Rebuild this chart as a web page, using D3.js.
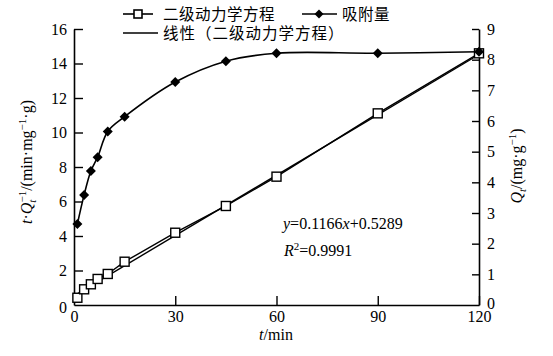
<!DOCTYPE html>
<html><head><meta charset="utf-8">
<script src="https://cdn.jsdelivr.net/npm/d3@7"></script>
<style>body{margin:0;background:#fff}svg{display:block}</style>
</head><body>
<svg id="c" width="553" height="356"></svg>
<script>
const times = [1, 3, 5, 7, 10, 15, 30, 45, 60, 90, 120];
const tOverQ = [0.42, 0.91, 1.20, 1.51, 1.80, 2.51, 4.19, 5.74, 7.44, 11.11, 14.59];
const qAdsorbed = [2.64, 3.59, 4.37, 4.82, 5.66, 6.14, 7.27, 7.95, 8.21, 8.21, 8.26];
const fitSlope = 0.1166, fitIntercept = 0.5289;
const fitRange = [0, 120];
const xTicks = [0, 30, 60, 90, 120];
const yLeftTicks = [0, 2, 4, 6, 8, 10, 12, 14, 16];
const yRightTicks = [0, 1, 2, 3, 4, 5, 6, 7, 8, 9];
const legendSquare = "二级动力学方程";
const legendDiamond = "吸附量";
const legendFit = "线性（二级动力学方程）";
const eqText = "=0.1166";
const r2Text = "=0.9991";

const svg = d3.select("#c");
const serif = "'Liberation Serif','Times New Roman',serif";
const cjk = "'Noto Sans CJK SC',sans-serif";
const L = 74, R = 479, T = 29, B = 305;
const x = d3.scaleLinear().domain([0, 120]).range([L, R]);
const yL = d3.scaleLinear().domain([0, 16]).range([B, T]);
const yR = d3.scaleLinear().domain([0, 9]).range([B, T]);

// axes
const gx = svg.append("g").attr("transform", `translate(0,${B})`)
  .call(d3.axisBottom(x).tickValues(xTicks).tickSize(-9).tickPadding(6).tickSizeOuter(0));
const gl = svg.append("g").attr("transform", `translate(${L},0)`)
  .call(d3.axisLeft(yL).tickValues(yLeftTicks).tickSize(-9).tickPadding(7).tickSizeOuter(0));
const gr = svg.append("g").attr("transform", `translate(${R},0)`)
  .call(d3.axisRight(yR).tickValues(yRightTicks).tickSize(-7).tickPadding(8).tickSizeOuter(0));
[gx, gl, gr].forEach(g => {
  g.attr("font-family", null).attr("font-size", null);
  g.selectAll("path.domain").attr("stroke", "#000").attr("stroke-width", 1.6);
  g.selectAll(".tick line").attr("stroke", "#000").attr("stroke-width", 1.4);
  g.selectAll("text").style("font-family", serif).style("font-size", "16px").attr("fill", "#000");
});
gx.selectAll(".tick").filter(d => d === 0).select("line").remove();
gl.selectAll(".tick").filter(d => d === 0).select("line").remove();
gr.selectAll(".tick").filter(d => d === 0).select("line").remove();
gr.selectAll(".tick").filter(d => d === 0).select("text").attr("dy", "0.2em");
gl.selectAll(".tick").filter(d => d === 0).select("text").attr("dy", "0.45em");

// fit line
svg.append("path")
  .attr("d", d3.line().x(d => x(d)).y(d => yL(fitSlope * d + fitIntercept))(fitRange))
  .attr("fill", "none").attr("stroke", "#000").attr("stroke-width", 1.4);

const sqData = times.map((t, i) => [t, tOverQ[i]]);
const dmData = times.map((t, i) => [t, qAdsorbed[i]]);

svg.append("path")
  .attr("d", d3.line().x(d => x(d[0])).y(d => yL(d[1]))(sqData))
  .attr("fill", "none").attr("stroke", "#000").attr("stroke-width", 1.4);
svg.append("path")
  .attr("d", d3.line().curve(d3.curveCatmullRom.alpha(0.5)).x(d => x(d[0])).y(d => yR(d[1]))(dmData))
  .attr("fill", "none").attr("stroke", "#000").attr("stroke-width", 1.6);

const sq = 9;
svg.append("g").selectAll("rect").data(sqData).join("rect")
  .attr("x", d => x(d[0]) - sq / 2).attr("y", d => yL(d[1]) - sq / 2)
  .attr("width", sq).attr("height", sq)
  .attr("fill", "#fff").attr("stroke", "#000").attr("stroke-width", 1.4);
svg.append("g").selectAll("path").data(dmData).join("path")
  .attr("transform", d => `translate(${x(d[0])},${yR(d[1])}) rotate(45)`)
  .attr("d", d3.symbol().type(d3.symbolSquare).size(50)())
  .attr("fill", "#000");

// legend
const lg = svg.append("g");
lg.append("line").attr("x1", 123).attr("x2", 153).attr("y1", 14).attr("y2", 14).attr("stroke", "#000").attr("stroke-width", 1.6);
lg.append("rect").attr("x", 138 - 4).attr("y", 14 - 4).attr("width", 8).attr("height", 8).attr("fill", "#fff").attr("stroke", "#000").attr("stroke-width", 1.6);
lg.append("text").attr("x", 163).attr("y", 14).attr("dy", "0.36em").attr("font-family", cjk).attr("font-size", 15.5).attr("letter-spacing", 0.5).text(legendSquare);
lg.append("line").attr("x1", 302).attr("x2", 337).attr("y1", 14).attr("y2", 14).attr("stroke", "#000").attr("stroke-width", 1.6);
lg.append("path").attr("transform", "translate(319,14) rotate(45)").attr("d", d3.symbol().type(d3.symbolSquare).size(40)()).attr("fill", "#000");
lg.append("text").attr("x", 342).attr("y", 14).attr("dy", "0.36em").attr("font-family", cjk).attr("font-size", 15.5).attr("letter-spacing", 0.5).text(legendDiamond);
lg.append("line").attr("x1", 123).attr("x2", 158).attr("y1", 33).attr("y2", 33).attr("stroke", "#000").attr("stroke-width", 1.6);
lg.append("text").attr("x", 163).attr("y", 33).attr("dy", "0.36em").attr("font-family", cjk).attr("font-size", 15.5).attr("letter-spacing", 1).text(legendFit);

// annotation
const eq = svg.append("text").attr("x", 283).attr("y", 229).attr("font-family", serif).attr("font-size", 16);
eq.append("tspan").attr("font-style", "italic").text("y");
eq.append("tspan").text(eqText);
eq.append("tspan").attr("font-style", "italic").text("x");
eq.append("tspan").text("+0.5289");
const r2 = svg.append("text").attr("x", 284).attr("y", 256).attr("font-family", serif).attr("font-size", 16);
r2.append("tspan").attr("font-style", "italic").text("R");
r2.append("tspan").attr("font-size", 11).attr("dy", -6).text("2");
r2.append("tspan").attr("dy", 6).text(r2Text);

// x label
const xl = svg.append("text").attr("x", 276).attr("y", 340).attr("text-anchor", "middle").attr("font-family", serif).attr("font-size", 16);
xl.append("tspan").attr("font-style", "italic").text("t");
xl.append("tspan").text("/min");

// left label
const yl = svg.append("text").attr("transform", "translate(32,162) rotate(-90)").attr("text-anchor", "middle").attr("font-family", serif).attr("font-size", 16);
yl.append("tspan").attr("font-style", "italic").text("t");
yl.append("tspan").text("·");
yl.append("tspan").attr("font-style", "italic").text("Q");
yl.append("tspan").attr("font-style", "italic").attr("font-size", 11).attr("dy", 4).text("t");
yl.append("tspan").attr("font-size", 11).attr("dy", -10).attr("dx", -3).text("−1");
yl.append("tspan").attr("dy", 6).text("/(min·mg");
yl.append("tspan").attr("font-size", 11).attr("dy", -6).text("−1");
yl.append("tspan").attr("dy", 6).text("·g)");

// right label
const rl = svg.append("text").attr("transform", "translate(522,166) rotate(-90)").attr("text-anchor", "middle").attr("font-family", serif).attr("font-size", 16);
rl.append("tspan").attr("font-style", "italic").text("Q");
rl.append("tspan").attr("font-style", "italic").attr("font-size", 11).attr("dy", 4).text("t");
rl.append("tspan").attr("dy", -4).text("/(mg·g");
rl.append("tspan").attr("font-size", 11).attr("dy", -6).text("−1");
rl.append("tspan").attr("dy", 6).text(")");
</script>
</body></html>
